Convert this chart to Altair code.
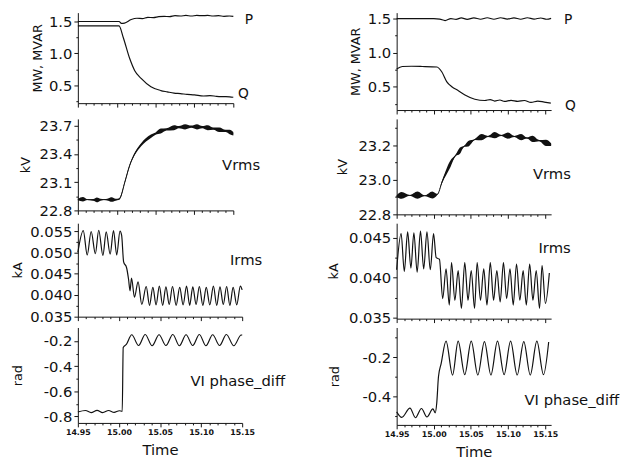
import altair as alt
import pandas as pd

FONT = "DejaVu Sans"
INK = "#111111"

# ---------------- shared x ticks ----------------
XTICKS = [14.95, 14.96, 14.97, 14.98, 14.99, 15.00, 15.01, 15.02, 15.03, 15.04, 15.05,
          15.06, 15.07, 15.08, 15.09, 15.10, 15.11, 15.12, 15.13, 15.14, 15.15]

# ---------------- left column data ----------------
L_P_t = [14.950, 15.003, 15.006, 15.010, 15.0187, 15.026, 15.033, 15.040, 15.047, 15.054, 15.061, 15.068,
         15.075, 15.082, 15.089, 15.096, 15.103, 15.110, 15.117, 15.124, 15.131, 15.138, 15.145, 15.150]
L_P_v = [1.500, 1.500, 1.470, 1.475, 1.530, 1.550, 1.545, 1.565, 1.560, 1.575, 1.580, 1.575,
         1.590, 1.585, 1.595, 1.585, 1.595, 1.590, 1.595, 1.585, 1.590, 1.580, 1.585, 1.580]
L_Q_t = [14.950, 15.003, 15.0084, 15.0167, 15.0230, 15.0314, 15.0440, 15.0567, 15.0650, 15.0737,
         15.0820, 15.0905, 15.1000, 15.1116, 15.1200, 15.1285, 15.1370, 15.1453, 15.1500]
L_Q_v = [1.430, 1.430, 1.250, 0.920, 0.735, 0.610, 0.480, 0.420, 0.400, 0.380,
         0.372, 0.360, 0.352, 0.335, 0.340, 0.330, 0.325, 0.322, 0.315]

L_V_t = [14.9500, 14.9565, 14.9620, 14.9700, 14.9745, 14.9790, 14.9835, 14.9890, 14.9935, 14.9985,
         15.0025, 15.0045, 15.0104, 15.0167, 15.0230, 15.0314, 15.0440, 15.0500, 15.0567, 15.0640,
         15.0737, 15.0800, 15.0880, 15.0960, 15.1032, 15.1100, 15.1170, 15.1243, 15.1320, 15.1400,
         15.1453, 15.1500]
L_V_v = [22.915, 22.918, 22.915, 22.912, 22.912, 22.914, 22.915, 22.916, 22.915, 22.914,
         22.918, 22.935, 23.100, 23.280, 23.400, 23.500, 23.590, 23.618, 23.645, 23.662,
         23.680, 23.686, 23.690, 23.691, 23.690, 23.686, 23.680, 23.670, 23.658, 23.646,
         23.635, 23.616]
L_V_hw = [0.008, 0.024, 0.005, 0.010, 0.026, 0.010, 0.005, 0.012, 0.024, 0.010,
          0.008, 0.010, 0.012, 0.012, 0.014, 0.016, 0.018, 0.012, 0.026, 0.012,
          0.026, 0.012, 0.028, 0.012, 0.028, 0.012, 0.026, 0.012, 0.024, 0.012,
          0.024, 0.018]

L_I_t = [14.9500, 14.9566, 14.9614, 14.9662, 14.9713, 14.9754, 14.9805, 14.9845, 14.9893, 14.9934,
         14.9973, 15.0013, 15.0033, 15.0057, 15.0093, 15.0117, 15.0135, 15.0153, 15.0189, 15.0233,
         15.0278, 15.0332, 15.0372, 15.0413, 15.0452, 15.0492, 15.0532, 15.0572, 15.0612, 15.0652,
         15.0696, 15.0740, 15.0781, 15.0823, 15.0861, 15.0899, 15.0939, 15.0979, 15.1021, 15.1063,
         15.1106, 15.1150, 15.1190, 15.1230, 15.1270, 15.1311, 15.1350, 15.1390, 15.1434, 15.1478,
         15.1500]
L_I_v = [0.0500, 0.0551, 0.0494, 0.0549, 0.0497, 0.0552, 0.0493, 0.0548, 0.0496, 0.0551,
         0.0494, 0.0550, 0.0540, 0.0478, 0.0464, 0.0437, 0.0410, 0.0440, 0.0395, 0.0431,
         0.0378, 0.0420, 0.0376, 0.0418, 0.0377, 0.0421, 0.0376, 0.0419, 0.0378, 0.0420,
         0.0376, 0.0418, 0.0377, 0.0421, 0.0376, 0.0419, 0.0378, 0.0420, 0.0376, 0.0418,
         0.0377, 0.0421, 0.0376, 0.0419, 0.0378, 0.0420, 0.0376, 0.0418, 0.0377, 0.0421,
         0.0412]

L_A_t = [14.9500, 14.9593, 14.9662, 14.9734, 14.9802, 14.9874, 14.9941, 15.0005, 15.0040, 15.0052,
         15.0090, 15.0156, 15.0239, 15.0320, 15.0404, 15.0488, 15.0572, 15.0656, 15.0736, 15.0817,
         15.0898, 15.0979, 15.1059, 15.1141, 15.1225, 15.1308, 15.1398, 15.1488, 15.1500]
L_A_v = [-0.765, -0.753, -0.770, -0.752, -0.770, -0.753, -0.768, -0.755, -0.760, -0.252,
         -0.227, -0.150, -0.236, -0.148, -0.238, -0.150, -0.236, -0.148, -0.238, -0.150,
         -0.236, -0.148, -0.238, -0.150, -0.236, -0.148, -0.238, -0.152, -0.153]

# ---------------- right column data ----------------
R_P_t = [14.950, 15.000, 15.008, 15.0153, 15.023, 15.030, 15.037, 15.045, 15.054, 15.063, 15.072,
         15.081, 15.090, 15.099, 15.108, 15.117, 15.126, 15.135, 15.144, 15.152, 15.158]
R_P_v = [1.500, 1.498, 1.492, 1.470, 1.500, 1.488, 1.510, 1.488, 1.510, 1.490, 1.512,
         1.490, 1.512, 1.492, 1.510, 1.490, 1.512, 1.492, 1.508, 1.490, 1.503]
R_Q_t = [14.9500, 14.9576, 14.9700, 14.9843, 15.0043, 15.0109, 15.0176, 15.0243, 15.0331, 15.0420,
         15.0553, 15.0687, 15.0760, 15.0820, 15.0890, 15.0953, 15.1040, 15.1131, 15.1220, 15.1309,
         15.1400, 15.1487, 15.1576]
R_Q_v = [0.760, 0.797, 0.800, 0.797, 0.789, 0.716, 0.572, 0.500, 0.442, 0.379,
         0.317, 0.298, 0.312, 0.290, 0.305, 0.284, 0.300, 0.285, 0.298, 0.270,
         0.290, 0.275, 0.259]

R_V_t = [14.9500, 14.9567, 14.9675, 14.9780, 14.9880, 14.9980, 15.0047, 15.0113, 15.0220, 15.0290,
         15.0353, 15.0410, 15.0464, 15.0555, 15.0643, 15.0730, 15.0820, 15.0910, 15.0997, 15.1085,
         15.1176, 15.1255, 15.1330, 15.1420, 15.1510, 15.1580]
R_V_v = [22.905, 22.910, 22.910, 22.912, 22.908, 22.912, 22.915, 22.990, 23.090, 23.140,
         23.170, 23.195, 23.210, 23.235, 23.248, 23.252, 23.260, 23.258, 23.257, 23.252,
         23.248, 23.243, 23.238, 23.228, 23.215, 23.205]
R_V_hw = [0.006, 0.020, 0.002, 0.021, 0.002, 0.020, 0.003, 0.008, 0.020, 0.004,
          0.018, 0.003, 0.016, 0.003, 0.018, 0.003, 0.018, 0.003, 0.018, 0.003,
          0.018, 0.003, 0.018, 0.003, 0.018, 0.008]

R_I_t = [14.9500, 14.9560, 14.9603, 14.9648, 14.9692, 14.9732, 14.9776, 14.9821, 14.9864, 14.9908,
         14.9953, 14.9997, 15.0032, 15.0076, 15.0120, 15.0165, 15.0209, 15.0239, 15.0284, 15.0328,
         15.0372, 15.0417, 15.0461, 15.0504, 15.0549, 15.0584, 15.0629, 15.0673, 15.0716, 15.0761,
         15.0805, 15.0849, 15.0894, 15.0938, 15.0981, 15.1026, 15.1070, 15.1114, 15.1159, 15.1203,
         15.1246, 15.1291, 15.1335, 15.1379, 15.1424, 15.1458, 15.1503, 15.1556]
R_I_v = [0.0410, 0.0455, 0.0408, 0.0457, 0.0412, 0.0456, 0.0407, 0.0458, 0.0411, 0.0457,
         0.0410, 0.0455, 0.0425, 0.0423, 0.0374, 0.0411, 0.0366, 0.0419, 0.0372, 0.0409,
         0.0362, 0.0419, 0.0372, 0.0409, 0.0362, 0.0419, 0.0372, 0.0411, 0.0366, 0.0419,
         0.0372, 0.0409, 0.0370, 0.0419, 0.0374, 0.0411, 0.0366, 0.0417, 0.0372, 0.0409,
         0.0366, 0.0417, 0.0372, 0.0409, 0.0362, 0.0415, 0.0368, 0.0406]

R_A_t = [14.9500, 14.9569, 14.9679, 14.9754, 14.9834, 14.9908, 14.9988, 15.0019, 15.0040, 15.0063,
         15.0099, 15.0165, 15.0253, 15.0328, 15.0417, 15.0504, 15.0593, 15.0682, 15.0769, 15.0858,
         15.0947, 15.1034, 15.1123, 15.1212, 15.1299, 15.1388, 15.1477, 15.1547]
R_A_v = [-0.477, -0.505, -0.458, -0.507, -0.460, -0.503, -0.462, -0.482, -0.432, -0.299,
         -0.232, -0.118, -0.290, -0.118, -0.288, -0.118, -0.290, -0.120, -0.290, -0.118,
         -0.288, -0.118, -0.290, -0.120, -0.290, -0.118, -0.288, -0.122]

# ---------------- annotation labels (text, time, value) ----------------
NOTES = {
    "L1": [("P", 15.170, 1.515), ("Q", 15.163, 0.362)],
    "L2": [("Vrms", 15.160, 23.28)],
    "L3": [("Irms", 15.1548, 0.04824)],
    "L4": [("VI phase_diff", 15.1446, -0.5156)],
    "R1": [("P", 15.1810, 1.471), ("Q", 15.1840, 0.216)],
    "R2": [("Vrms", 15.1590, 23.036)],
    "R3": [("Irms", 15.1627, 0.04371)],
    "R4": [("VI phase_diff", 15.1859, -0.4185)],
}


def series_df(*pairs):
    frames = []
    for name, t, v in pairs:
        frames.append(pd.DataFrame({"t": t, "v": v, "s": name}))
    return pd.concat(frames, ignore_index=True)


def band_df(t, v, hw):
    d = pd.DataFrame({"t": t, "v": v, "hw": hw})
    d["lo"] = d["v"] - d["hw"]
    d["hi"] = d["v"] + d["hw"]
    return d


XMAJOR = "abs(datum.value * 20 - round(datum.value * 20)) < 0.001"


def panel(series, xdom, ydom, yticks, ymajor, yfmt, ytitle, tx, w, h, notes,
          note_size=15, bottom=False, band=None, lw=1.2):
    ytest = f"abs(datum.value / {ymajor} - round(datum.value / {ymajor})) < 0.001"
    common_x = dict(values=XTICKS, grid=False, domainColor=INK, tickColor=INK,
                    tickSize={"condition": {"test": XMAJOR, "value": 4}, "value": 2},
                    labelFlush=False)
    if bottom:
        xaxis = alt.Axis(**common_x,
                         labelExpr=f"{XMAJOR} ? format(datum.value, '.2f') : ''",
                         labelFont=FONT, labelFontSize=8, labelFontWeight="bold",
                         labelColor=INK, labelPadding=2, labelOverlap=False,
                         title="Time", titleFont=FONT, titleFontSize=15,
                         titleFontWeight="normal", titleColor=INK, titlePadding=6)
    else:
        xaxis = alt.Axis(**common_x, labels=False, title=None)
    yaxis = alt.Axis(values=yticks, grid=False, domainColor=INK, tickColor=INK,
                     tickSize={"condition": {"test": ytest, "value": 4}, "value": 2},
                     labelExpr=f"{ytest} ? replace(format(datum.value, '{yfmt}'), '\u2212', '-') : ''",
                     labelFont=FONT, labelFontSize=15, labelColor=INK, labelPadding=2,
                     labelOverlap=False, labelFlush=False,
                     title=ytitle, titleFont=FONT, titleFontSize=13, titleFontWeight="normal",
                     titleColor=INK, titleX=tx)
    xs = alt.Scale(domain=xdom, nice=False, zero=False)
    ys = alt.Scale(domain=ydom, nice=False, zero=False)
    layers = []
    if band is not None:
        layers.append(
            alt.Chart(band).mark_area(color=INK, interpolate="monotone").encode(
                x=alt.X("t:Q", scale=xs, axis=xaxis),
                y=alt.Y("lo:Q", scale=ys, axis=yaxis),
                y2="hi:Q",
            )
        )
    layers.append(
        alt.Chart(series).mark_line(color=INK, strokeWidth=lw, interpolate="monotone").encode(
            x=alt.X("t:Q", scale=xs, axis=xaxis),
            y=alt.Y("v:Q", scale=ys, axis=yaxis),
            detail="s:N",
        )
    )
    nd = pd.DataFrame(notes, columns=["label", "t", "v"])
    layers.append(
        alt.Chart(nd).mark_text(font=FONT, fontSize=note_size, color=INK,
                                align="center", baseline="middle").encode(
            x=alt.X("t:Q", scale=xs, axis=xaxis),
            y=alt.Y("v:Q", scale=ys, axis=yaxis),
            text="label:N",
        )
    )
    return alt.layer(*layers).properties(width=w, height=h)


LX = [14.95, 15.15]
RX = [14.95, 15.158]

L1 = panel(series_df(("P", L_P_t, L_P_v), ("Q", L_Q_t, L_Q_v)), LX, [0.223, 1.638],
           [0.25, 0.5, 0.75, 1.0, 1.25, 1.5], 0.5, ".1f", "MW, MVAR", -34, 158, 92,
           NOTES["L1"], note_size=14)
L2 = panel(series_df(("V", L_V_t, L_V_v)), LX, [22.8, 23.774],
           [22.8, 22.95, 23.1, 23.25, 23.4, 23.55, 23.7], 0.3, ".1f", "kV", -46, 158, 93,
           NOTES["L2"], band=band_df(L_V_t, L_V_v, L_V_hw), lw=1.0)
L3 = panel(series_df(("I", L_I_t, L_I_v)), LX, [0.03493, 0.05685],
           [0.035, 0.0375, 0.04, 0.0425, 0.045, 0.0475, 0.05, 0.0525, 0.055], 0.005, ".3f",
           "kA", -54, 167, 95, NOTES["L3"])
L4 = panel(series_df(("A", L_A_t, L_A_v)), LX, [-0.852, -0.0925],
           [-0.8, -0.7, -0.6, -0.5, -0.4, -0.3, -0.2], 0.2, ".1f", "rad", -54, 167, 97,
           NOTES["L4"], bottom=True)

R1 = panel(series_df(("P", R_P_t, R_P_v), ("Q", R_Q_t, R_Q_v)), RX, [0.158, 1.5866],
           [0.25, 0.5, 0.75, 1.0, 1.25, 1.5], 0.5, ".1f", "MW, MVAR", -35, 157, 99,
           NOTES["R1"], note_size=14)
R2 = panel(series_df(("V", R_V_t, R_V_v)), RX, [22.8, 23.354],
           [22.8, 22.9, 23.0, 23.1, 23.2, 23.3], 0.2, ".1f", "kV", -48, 157, 97,
           NOTES["R2"], band=band_df(R_V_t, R_V_v, R_V_hw), lw=1.0)
R3 = panel(series_df(("I", R_I_t, R_I_v)), RX, [0.03491, 0.04679],
           [0.035, 0.0375, 0.04, 0.0425, 0.045], 0.005, ".3f", "kA", -57, 157, 97, NOTES["R3"])
R4 = panel(series_df(("A", R_A_t, R_A_v)), RX, [-0.5435, -0.0485],
           [-0.5, -0.4, -0.3, -0.2, -0.1], 0.2, ".1f", "rad", -56, 157, 99,
           NOTES["R4"], bottom=True)

chart = alt.concat(L1, R1, L2, R2, L3, R3, L4, R4, columns=2, align="each", bounds="flush",
                   spacing={"row": 9, "column": 157}).properties(
    padding={"top": 0, "left": 4, "right": 0, "bottom": 0},
    background="white",
).configure_view(stroke=None)

chart.save("out.html", embed_options={"renderer": "svg", "actions": False})
